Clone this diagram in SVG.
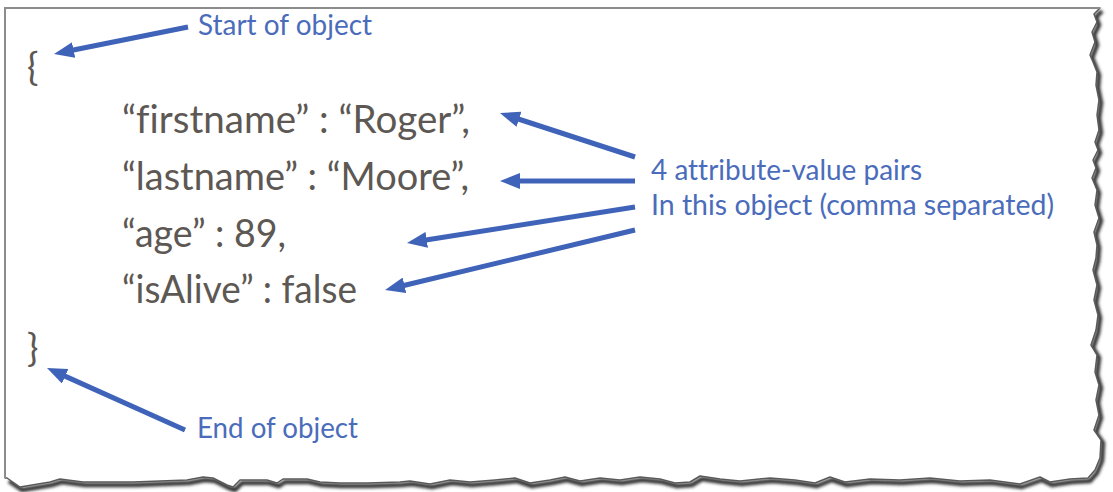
<svg xmlns="http://www.w3.org/2000/svg" width="1113" height="492" viewBox="0 0 1113 492">
<style>
.code{font-family:Lato,"Open Sans","Liberation Sans",sans-serif;font-size:38px;fill:#5d5853;font-variant-ligatures:none;font-feature-settings:"liga" 0,"clig" 0}
.note{font-family:Lato,"Open Sans","Liberation Sans",sans-serif;font-size:29px;fill:#4a6cbb;font-variant-ligatures:none;font-feature-settings:"liga" 0,"clig" 0}
.arrow{stroke:#3f63b8;stroke-width:5;fill:none;marker-end:url(#head)}
</style>
<defs>
<marker id="head" markerUnits="userSpaceOnUse" markerWidth="20" markerHeight="16" refX="4" refY="8" orient="auto">
<path d="M0,0 L20,8 L0,16 z" fill="#3f63b8"/>
</marker>
<filter id="blur" x="-5%" y="-5%" width="110%" height="110%"><feGaussianBlur stdDeviation="1.5"/></filter>
</defs>
<rect width="1113" height="492" fill="#ffffff"/>
<g id="paper">
<path id="shadow" transform="translate(2,3)" filter="url(#blur)" fill="none" stroke="#333333" stroke-width="4.5" stroke-linejoin="round" d="M1100,8 L1094,14 L1097,22 L1092,32 L1095,42 L1090,55 L1093,62 L1097,72 L1096,85 L1099,100 L1097,115 L1099,130 L1095,142 L1098,150 L1093,160 L1096,168 L1092,178 L1097,190 L1095,205 L1099,218 L1094,232 L1097,245 L1096,258 L1093,270 L1097,285 L1094,300 L1098,315 L1096,330 L1091,345 L1097,355 L1095,372 L1099,385 L1096,400 L1099,415 L1094,430 L1101,440 L1100,458 L1095,470 L1088,478 L1070,479 L1050,482 L1040,477 L1020,484 L990,480 L960,481 L930,478 L900,480 L870,479 L845,482 L830,477 L815,483 L795,480 L770,478 L740,481 L720,479 L700,476 L690,482 L675,483 L660,479 L640,477 L620,480 L600,478 L580,481 L565,477 L550,480 L530,483 L515,478 L495,480 L470,482 L450,480 L430,484 L410,481 L400,482 L367,483 L340,483 L320,482 L307,479 L283,479 L277,483 L267,480 L240,480 L233,487 L227,485 L213,478 L203,477 L187,480 L133,482 L83,482 L60,479 L50,482 L20,487 L7,478"/>
<path id="sheet" fill="#ffffff" stroke="#5a5a5a" stroke-width="1.5" stroke-linejoin="round" d="M5,8 L1100,8 L1094,14 L1097,22 L1092,32 L1095,42 L1090,55 L1093,62 L1097,72 L1096,85 L1099,100 L1097,115 L1099,130 L1095,142 L1098,150 L1093,160 L1096,168 L1092,178 L1097,190 L1095,205 L1099,218 L1094,232 L1097,245 L1096,258 L1093,270 L1097,285 L1094,300 L1098,315 L1096,330 L1091,345 L1097,355 L1095,372 L1099,385 L1096,400 L1099,415 L1094,430 L1101,440 L1100,458 L1095,470 L1088,478 L1070,479 L1050,482 L1040,477 L1020,484 L990,480 L960,481 L930,478 L900,480 L870,479 L845,482 L830,477 L815,483 L795,480 L770,478 L740,481 L720,479 L700,476 L690,482 L675,483 L660,479 L640,477 L620,480 L600,478 L580,481 L565,477 L550,480 L530,483 L515,478 L495,480 L470,482 L450,480 L430,484 L410,481 L400,482 L367,483 L340,483 L320,482 L307,479 L283,479 L277,483 L267,480 L240,480 L233,487 L227,485 L213,478 L203,477 L187,480 L133,482 L83,482 L60,479 L50,482 L20,487 L7,478 L5,478 z"/>
<path d="M5,478 L5,8 L1100,8" fill="none" stroke="#8c8c8c" stroke-width="2"/>
</g>
<g id="json">
<text id="open-brace" class="code" x="27" y="80">{</text>
<text id="line-firstname" class="code" x="122" y="133" textLength="348" lengthAdjust="spacingAndGlyphs">“firstname” : “Roger”,</text>
<text id="line-lastname" class="code" x="122" y="190" textLength="347" lengthAdjust="spacingAndGlyphs">“lastname” : “Moore”,</text>
<text id="line-age" class="code" x="122" y="247" textLength="164" lengthAdjust="spacingAndGlyphs">“age” : 89,</text>
<text id="line-isalive" class="code" x="122" y="303" textLength="235" lengthAdjust="spacingAndGlyphs">“isAlive” : false</text>
<text id="close-brace" class="code" x="27" y="361">}</text>
</g>
<g id="labels">
<text id="label-start" class="note" x="198" y="35" textLength="174" lengthAdjust="spacingAndGlyphs">Start of object</text>
<text id="label-pairs1" class="note" x="651" y="180" textLength="271" lengthAdjust="spacingAndGlyphs">4 attribute-value pairs</text>
<text id="label-pairs2" class="note" x="651" y="215" textLength="403" lengthAdjust="spacingAndGlyphs">In this object (comma separated)</text>
<text id="label-end" class="note" x="197" y="438" textLength="161" lengthAdjust="spacingAndGlyphs">End of object</text>
</g>
<g id="connectors">
<line class="arrow" x1="188" y1="27" x2="69.7" y2="50.8"/>
<line class="arrow" x1="635" y1="157" x2="515.2" y2="118"/>
<line class="arrow" x1="635" y1="181" x2="516" y2="181"/>
<line class="arrow" x1="635" y1="207" x2="422.8" y2="240.5"/>
<line class="arrow" x1="635" y1="230" x2="400.6" y2="286.3"/>
<line class="arrow" x1="185" y1="430" x2="61.6" y2="374.6"/>
</g>
</svg>
